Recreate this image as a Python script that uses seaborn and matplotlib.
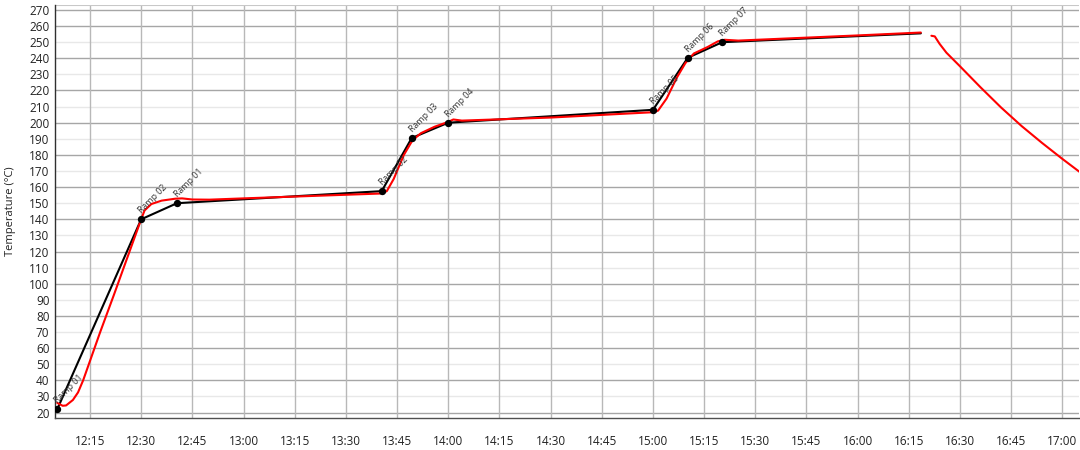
import matplotlib
matplotlib.use("Agg")
import matplotlib.pyplot as plt
import seaborn as sns
import pandas as pd

# ---------------- data ----------------
DAY = "2020-01-01 "

setpoint_times = ["12:05:24", "12:30:00", "12:40:30", "13:40:30", "13:49:18",
                  "14:00:00", "15:00:00", "15:10:12", "15:20:18", "16:18:30"]
setpoint_temps = [22, 140, 150, 157.5, 190.5, 200, 208, 240.3, 250, 255.5]
ramp_labels = ["Ramp 01", "Ramp 02", "Ramp 01", "Ramp 02", "Ramp 03",
               "Ramp 04", "Ramp 05", "Ramp 06", "Ramp 07"]

heat_times = ["12:05:24", "12:07:00", "12:08:00", "12:10:00", "12:11:30", "12:13:00",
              "12:14:30", "12:16:00", "12:18:00", "12:22:00", "12:26:00", "12:30:00",
              "12:31:00", "12:33:00", "12:36:00", "12:40:00", "12:42:00", "12:45:00",
              "12:50:00", "13:00:00", "13:20:00", "13:40:00", "13:42:00", "13:44:00",
              "13:47:00", "13:49:30", "13:52:00", "13:56:00", "14:00:00", "14:01:30",
              "14:04:00", "14:30:00", "15:00:00", "15:01:30", "15:04:00", "15:07:00",
              "15:09:30", "15:12:00", "15:16:00", "15:19:00", "15:21:00", "15:25:00",
              "16:00:00", "16:18:30"]
heat_temps = [26, 24.2, 24.4, 27.8, 32.5, 40,
              49, 58, 70, 93, 116.5, 140,
              145.5, 149.5, 151.6, 152.8, 153, 152.3,
              152.2, 153, 154.5, 156, 157.5, 165,
              180, 189, 193.5, 197.5, 200.5, 202,
              201.3, 203.2, 206.5, 207.5, 215, 228,
              237, 243, 247, 250.5, 251.5, 251,
              254.2, 256]

cool_times = ["16:21:36", "16:22:36", "16:24:00", "16:26:00", "16:30:00", "16:36:00",
              "16:42:00", "16:48:00", "16:54:00", "17:00:00", "17:05:00"]
cool_temps = [254, 253.6, 249, 243.5, 235, 222, 209.5, 198, 187.5, 177.5, 169.5]

x_tick_labels = ["12:15", "12:30", "12:45", "13:00", "13:15", "13:30", "13:45",
                 "14:00", "14:15", "14:30", "14:45", "15:00", "15:15", "15:30",
                 "15:45", "16:00", "16:15", "16:30", "16:45", "17:00"]
y_ticks = list(range(20, 271, 10))

# ---------------- frames ----------------
def frame(times, temps):
    return pd.DataFrame({"time": pd.to_datetime([DAY + t for t in times]),
                         "temp": temps})

sp = frame(setpoint_times, setpoint_temps)
heat = frame(heat_times, heat_temps)
cool = frame(cool_times, cool_temps)

# ---------------- plot ----------------
sns.set_theme(style="white")
plt.rcParams["font.family"] = ["Open Sans", "DejaVu Sans"]

fig = plt.figure(figsize=(10.8, 4.5), dpi=100)
ax = fig.add_axes([55 / 1080, 1 - 418 / 450, 1 - 55 / 1080 - 0.0005, (418 - 5) / 450])

# grid
for v in y_ticks:
    major = (v % 20 == 0) or v == 270
    ax.axhline(v, color="#a6a6a6" if major else "#e8e8e8", lw=1.0, zorder=0)
xt = pd.to_datetime([DAY + t for t in x_tick_labels])
for t in xt:
    ax.axvline(t, color="#b8b8b8", lw=1.0, zorder=0)

sns.lineplot(data=sp, x="time", y="temp", ax=ax, color="black", lw=1.5,
             sort=False, estimator=None, zorder=3)
sns.lineplot(data=heat, x="time", y="temp", ax=ax, color="#ff0000", lw=1.5,
             sort=False, estimator=None, zorder=4)
sns.lineplot(data=cool, x="time", y="temp", ax=ax, color="#ff0000", lw=1.5,
             sort=False, estimator=None, zorder=4)
pts = sp.iloc[:len(ramp_labels)]
sns.scatterplot(data=pts, x="time", y="temp", ax=ax, color="black", s=28,
                edgecolor="black", linewidth=0, zorder=5)

for (_, r), lab in zip(pts.iterrows(), ramp_labels):
    ax.annotate(lab, (r["time"], r["temp"]), xytext=(1.5, 3),
                textcoords="offset points", rotation=45, rotation_mode="anchor",
                ha="left", va="bottom", fontsize=6.3, color="#333333", zorder=6)

ax.set_xlim(pd.Timestamp(DAY + "12:04:45"), pd.Timestamp(DAY + "17:05:00"))
ax.set_ylim(16.6, 273.1)
ax.set_xticks(xt)
ax.set_xticklabels(x_tick_labels)
ax.set_yticks(y_ticks)
ax.set_yticklabels([str(v) for v in y_ticks])
ax.tick_params(axis="x", length=0, pad=12, labelsize=8.5, labelcolor="#222222")
ax.tick_params(axis="y", length=0, pad=4, labelsize=8.5, labelcolor="#222222")
ax.set_xlabel("")
ax.set_ylabel("Temperature (°C)", fontsize=8, color="#222222", labelpad=9)

for s in ["top", "right"]:
    ax.spines[s].set_visible(False)
ax.spines["left"].set_color("#303030")
ax.spines["left"].set_linewidth(1.0)
ax.spines["bottom"].set_color("#505050")
ax.spines["bottom"].set_linewidth(1.0)
ax.axhline(273.1, color="#c8c8c8", lw=1.5, zorder=0)

fig.savefig("out.png", dpi=100)
